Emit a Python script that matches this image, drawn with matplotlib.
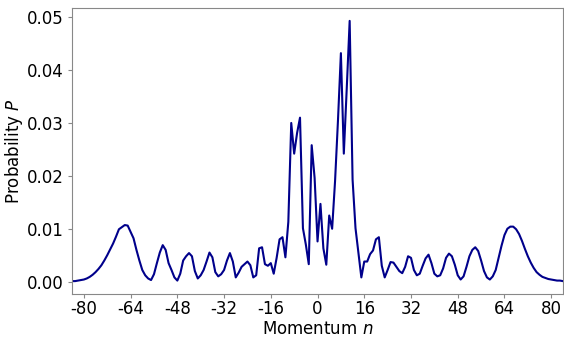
import numpy as np
import matplotlib
matplotlib.use("Agg")
import matplotlib.pyplot as plt

# momentum grid
n = np.arange(-84, 85)

# probability at each momentum, n = -84 .. 84
prob_left = [
    0.0001, 0.0001, 0.0002, 0.0003, 0.0004, 0.0006, 0.0009, 0.0013, 0.0018, 0.0024,  # -84..-75
    0.0031, 0.0040, 0.0050, 0.0061, 0.0072, 0.0085, 0.0099, 0.0103, 0.0107, 0.0106,  # -74..-65
    0.0094, 0.0082, 0.0060, 0.0040, 0.0022, 0.0012, 0.0006, 0.0003, 0.0014, 0.0035,  # -64..-55
    0.0055, 0.0069, 0.0060, 0.0035, 0.0022, 0.0008, 0.0002, 0.0015, 0.0040, 0.0048,  # -54..-45
    0.0054, 0.0048, 0.0020, 0.0006, 0.0012, 0.0022, 0.0038, 0.0055, 0.0046, 0.0018,  # -44..-35
    0.0010, 0.0014, 0.0022, 0.0040, 0.0054, 0.0038, 0.0008, 0.0017, 0.0028, 0.0033,  # -34..-25
    0.0038, 0.0031, 0.0008, 0.0012, 0.0063, 0.0065, 0.0033, 0.0030, 0.0035, 0.0015,  # -24..-15
    0.0045, 0.0080, 0.0084, 0.0046, 0.0113, 0.0300, 0.0242, 0.0281, 0.0310, 0.0101,  # -14..-5
    0.0070, 0.0033, 0.0258, 0.0196,                                                  # -4..-1
]
prob_right = [
    0.0076, 0.0147, 0.0063, 0.0032, 0.0125, 0.0100, 0.0190, 0.0305, 0.0432, 0.0242,  # 0..9
    0.0365, 0.0493, 0.0193, 0.0101, 0.0055, 0.0008, 0.0038, 0.0038, 0.0052, 0.0059,  # 10..19
    0.0080, 0.0084, 0.0030, 0.0008, 0.0022, 0.0037, 0.0036, 0.0028, 0.0020, 0.0016,  # 20..29
    0.0028, 0.0048, 0.0045, 0.0022, 0.0012, 0.0015, 0.0030, 0.0044, 0.0051, 0.0035,  # 30..39
    0.0015, 0.0010, 0.0012, 0.0025, 0.0045, 0.0053, 0.0048, 0.0032, 0.0012, 0.0004,  # 40..49
    0.0010, 0.0028, 0.0048, 0.0060, 0.0065, 0.0058, 0.0040, 0.0020, 0.0008, 0.0004,  # 50..59
    0.0010, 0.0022, 0.0045, 0.0068, 0.0088, 0.0100, 0.0104, 0.0104, 0.0099, 0.0090,  # 60..69
    0.0077, 0.0062, 0.0048, 0.0036, 0.0026, 0.0018, 0.0013, 0.0009, 0.0007, 0.0005,  # 70..79
    0.0004, 0.0003, 0.0002, 0.0002, 0.0001,                                          # 80..84
]
prob = np.array(prob_left + prob_right)

xticks = np.arange(-80, 81, 16)

fig = plt.figure(figsize=(5.64, 3.42), dpi=100)
ax = fig.add_axes([0.128, 0.140, 0.870, 0.837])

ax.plot(n, prob, color="#00008B", lw=1.5)

ax.set_xlim(-84, 84)
ax.margins(y=0.05)
ax.set_xticks(xticks)
ax.set_xticklabels([str(t) for t in xticks])
ax.set_yticks([0.0, 0.01, 0.02, 0.03, 0.04, 0.05])
ax.set_yticklabels(["0.00", "0.01", "0.02", "0.03", "0.04", "0.05"])

ax.tick_params(labelsize=12, color="#888888", length=3)
ax.tick_params(axis="x", pad=1.5)
ax.tick_params(axis="y", pad=3)
for s in ax.spines.values():
    s.set_color("#888888")

ax.set_xlabel("Momentum $n$", fontsize=12, labelpad=1)
ax.set_ylabel("Probability $P$", fontsize=12)
ax.yaxis.set_label_coords(-0.096, 0.5)

fig.savefig("out.png", dpi=100)
